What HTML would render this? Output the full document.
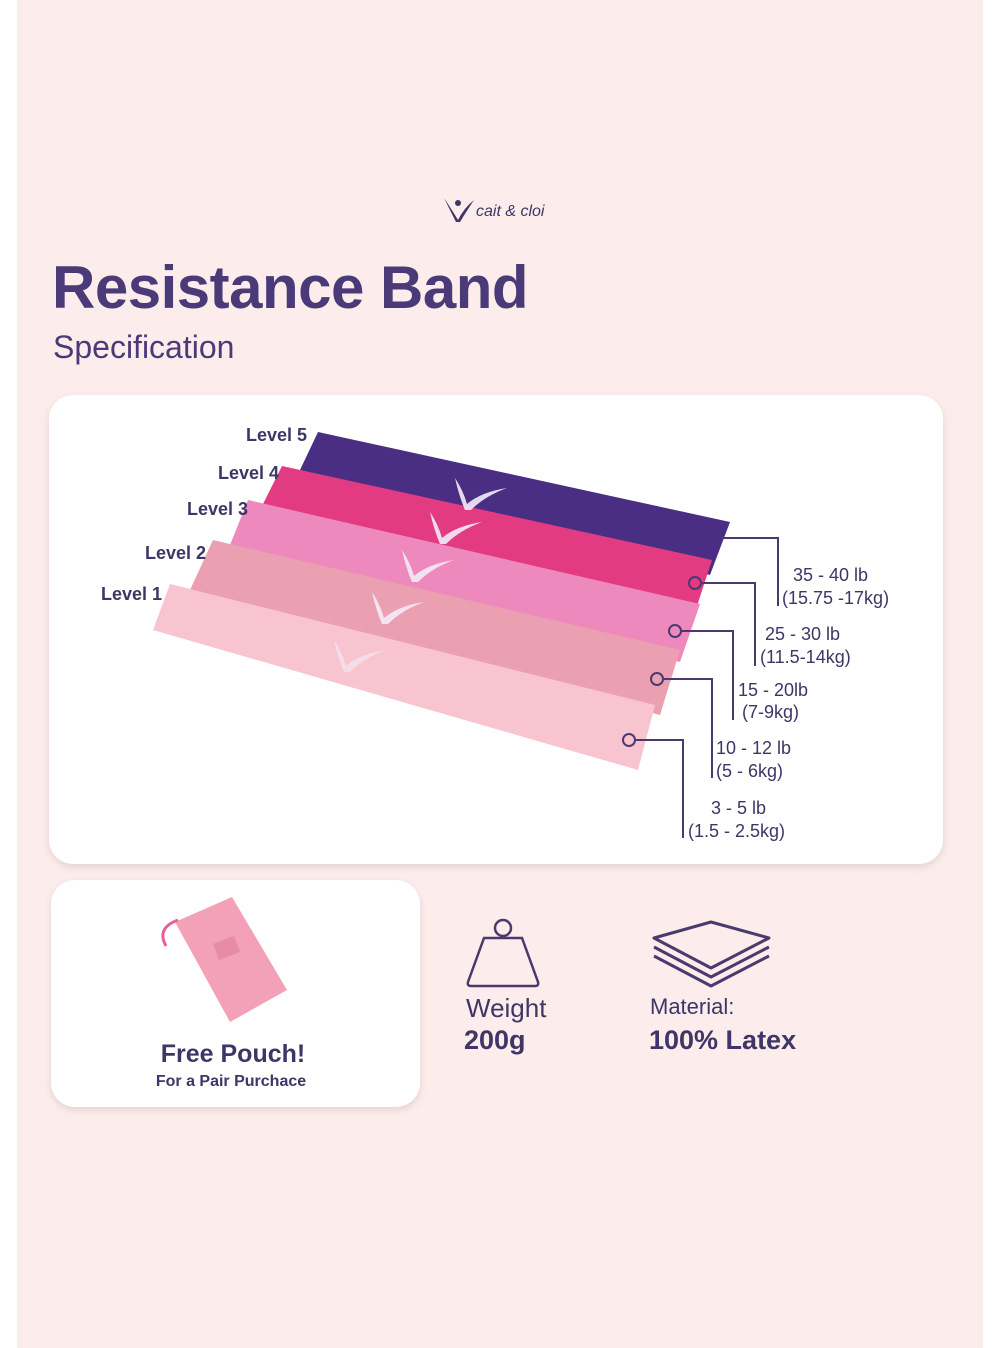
<!DOCTYPE html>
<html><head><meta charset="utf-8"><style>
html,body{margin:0;padding:0;background:#fff;}
svg{display:block;}
text{font-family:"Liberation Sans",sans-serif;}
</style></head><body>
<svg width="1000" height="1348" viewBox="0 0 1000 1348" xmlns="http://www.w3.org/2000/svg">
<defs>
<filter id="sh" x="-5%" y="-5%" width="110%" height="115%"><feDropShadow dx="0" dy="3" stdDeviation="4" flood-color="#b89a9a" flood-opacity="0.35"/></filter>
</defs>
<rect x="17" y="0" width="966" height="1348" fill="#fcedec"/>
<!-- logo -->
<path d="M444 198 Q452 210 458 220 Q464 208 474 200 Q466 212 460 222 L456 222 Q450 210 444 198Z" fill="#3f3566"/>
<circle cx="458" cy="203" r="3" fill="#3f3566"/>
<text x="476" y="216" font-family="Liberation Serif" font-style="italic" font-size="16" fill="#3f3566">cait &amp; cloi</text>
<!-- title -->
<text x="52" y="308" font-size="60" font-weight="bold" fill="#4a3a78" letter-spacing="-0.5">Resistance Band</text>
<text x="53" y="358" font-size="32" fill="#4a3a78">Specification</text>
<!-- main card -->
<rect x="49" y="395" width="894" height="469" rx="24" fill="#fff" filter="url(#sh)"/>
<!-- bands back to front -->
<polygon points="318,432 730,522 710,575 300,470" fill="#4a2e84"/>
<polygon points="282,466 712,560 695,612 262,506" fill="#e23b82"/>
<polygon points="248,500 700,604 680,662 230,545" fill="#ee89bd"/>
<polygon points="213,540 680,650 660,715 190,590" fill="#eaa0b0"/>
<polygon points="170,584 655,705 638,770 153,630" fill="#f7c4cf"/>
<g fill="#f3ecf7" opacity="0.9">
<path d="M455 478 q8 12 12 26 q14 -12 40 -16 q-22 8 -36 22 l-6 0 q-6 -14 -10 -32z"/>
<path d="M430 512 q8 12 12 26 q14 -12 40 -16 q-22 8 -36 22 l-6 0 q-6 -14 -10 -32z"/>
<path d="M402 550 q8 12 12 26 q14 -12 40 -16 q-22 8 -36 22 l-6 0 q-6 -14 -10 -32z"/>
<path d="M372 592 q8 12 12 26 q14 -12 40 -16 q-22 8 -36 22 l-6 0 q-6 -14 -10 -32z"/>
<path d="M334 640 q8 12 12 26 q14 -12 40 -16 q-22 8 -36 22 l-6 0 q-6 -14 -10 -32z" opacity="0.7"/>
</g>
<!-- level labels -->
<g font-size="18" fill="#3f3566" font-weight="bold">
<text x="246" y="441">Level 5</text>
<text x="218" y="479">Level 4</text>
<text x="187" y="515">Level 3</text>
<text x="145" y="559">Level 2</text>
<text x="101" y="600">Level 1</text>
</g>
<!-- connectors -->
<g stroke="#4a3a6e" stroke-width="2" fill="none">
<polyline points="722,538 778,538 778,606"/>
<circle cx="695" cy="583" r="6"/><polyline points="701,583 755,583 755,666"/>
<circle cx="675" cy="631" r="6"/><polyline points="681,631 733,631 733,720"/>
<circle cx="657" cy="679" r="6"/><polyline points="663,679 712,679 712,778"/>
<circle cx="629" cy="740" r="6"/><polyline points="635,740 683,740 683,838"/>
</g>
<g font-size="18" fill="#3f3566">
<text x="793" y="581">35 - 40 lb</text><text x="782" y="604">(15.75 -17kg)</text>
<text x="765" y="640">25 - 30 lb</text><text x="760" y="663">(11.5-14kg)</text>
<text x="738" y="696">15 - 20lb</text><text x="742" y="718">(7-9kg)</text>
<text x="716" y="754">10 - 12 lb</text><text x="716" y="777">(5 - 6kg)</text>
<text x="711" y="814">3 - 5 lb</text><text x="688" y="837">(1.5 - 2.5kg)</text>
</g>
<!-- pouch card -->
<rect x="51" y="880" width="369" height="227" rx="24" fill="#fff" filter="url(#sh)"/>
<polygon points="175,922 232,897 287,990 230,1022" fill="#f2a1b8"/>
<polygon points="213,944 234,936 240,952 219,960" fill="#e88ba6"/>
<path d="M178 920 q-22 8 -12 26" stroke="#e8609a" stroke-width="3" fill="none"/>
<text x="233" y="1062" font-size="25" font-weight="bold" fill="#3f3566" text-anchor="middle">Free Pouch!</text>
<text x="231" y="1086" font-size="16" font-weight="bold" fill="#3f3566" text-anchor="middle">For a Pair Purchace</text>
<!-- weight icon -->
<g stroke="#4a3a6e" stroke-width="2.5" fill="none">
<circle cx="503" cy="928" r="8"/>
<path d="M484 938 L522 938 L538 982 Q539 986 535 986 L471 986 Q467 986 468 982 Z"/>
</g>
<text x="466" y="1017" font-size="26" fill="#3f3566">Weight</text>
<text x="464" y="1049" font-size="27" font-weight="bold" fill="#3f3566">200g</text>
<!-- layers icon -->
<g stroke="#4a3a6e" stroke-width="3" fill="none" stroke-linejoin="round">
<polyline points="654,956 711,986 769,956"/>
<polyline points="654,947 711,977 769,947"/>
<polygon points="654,938 711,922 769,938 711,968"/>
</g>
<text x="650" y="1014" font-size="22" fill="#3f3566">Material:</text>
<text x="649" y="1049" font-size="27" font-weight="bold" fill="#3f3566">100% Latex</text>
</svg>
</body></html>
